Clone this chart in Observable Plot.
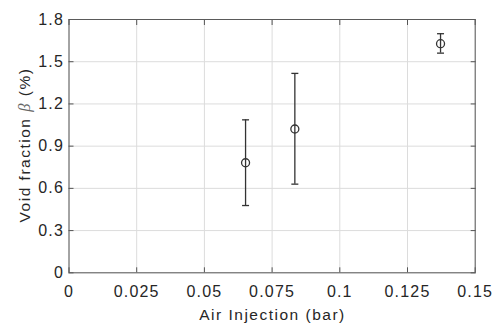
<!DOCTYPE html>
<html><head><meta charset="utf-8">
<script src="https://cdn.jsdelivr.net/npm/d3@7"></script>
<script src="https://cdn.jsdelivr.net/npm/@observablehq/plot@0.6"></script>
<style>
html,body{margin:0;padding:0;background:#fff;}
#chart svg{display:block;}
</style>
</head><body><div id="chart"></div>
<script>
const airInjection = [0.0652, 0.0834, 0.1372];
const voidFraction = [0.782, 1.022, 1.628];
const errLow = [0.478, 0.630, 1.561];
const errHigh = [1.087, 1.417, 1.699];
const xTicks = [0, 0.025, 0.05, 0.075, 0.1, 0.125, 0.15];
const xTickLabels = ["0", "0.025", "0.05", "0.075", "0.1", "0.125", "0.15"];
const yTicks = [0, 0.3, 0.6, 0.9, 1.2, 1.5, 1.8];
const yTickLabels = ["0", "0.3", "0.6", "0.9", "1.2", "1.5", "1.8"];

const data = airInjection.map((x, i) => ({x, y: voidFraction[i], lo: errLow[i], hi: errHigh[i]}));
const capSymbol = {draw(ctx, size) { const w = Math.sqrt(size / Math.PI); ctx.moveTo(-w, 0); ctx.lineTo(w, 0); }};
const ink = "#262626";
const font = "'Liberation Sans', Arial, sans-serif";

const chart = Plot.plot({
  width: 493, height: 325,
  marginLeft: 68.5, marginRight: 18.3, marginTop: 19, marginBottom: 52.7,
  style: {fontFamily: font, fontSize: "16px", color: ink, background: "#fff", letterSpacing: "1.2px"},
  x: {domain: [0, 0.15], ticks: xTicks},
  y: {domain: [0, 1.8], ticks: yTicks},
  marks: [
    Plot.gridX(xTicks, {stroke: "#dcdcdc", strokeOpacity: 1}),
    Plot.gridY(yTicks, {stroke: "#dcdcdc", strokeOpacity: 1}),
    Plot.axisX(xTicks, {anchor: "bottom", tickSize: 0, tickPadding: 13.3, fontSize: 16, fill: ink,
      tickFormat: d => xTickLabels[xTicks.indexOf(d)], label: null}),
    Plot.axisY(yTicks, {anchor: "left", tickSize: 0, tickPadding: 5, fontSize: 16, fill: ink,
      tickFormat: d => yTickLabels[yTicks.indexOf(d)], label: null}),
    Plot.axisX(xTicks, {anchor: "bottom", tickSize: 5, dy: -5, tickFormat: () => "", label: null, stroke: "#555"}),
    Plot.axisX(xTicks, {anchor: "top", tickSize: 5, dy: 5, tickFormat: () => "", label: null, stroke: "#555"}),
    Plot.axisY(yTicks, {anchor: "left", tickSize: 5, dx: 5, tickFormat: () => "", label: null, stroke: "#555"}),
    Plot.axisY(yTicks, {anchor: "right", tickSize: 5, dx: -5, tickFormat: () => "", label: null, stroke: "#555"}),
    Plot.frame({stroke: "#5a5a5a", strokeWidth: 1}),
    Plot.ruleX(data, {x: "x", y1: "lo", y2: "hi", stroke: "#333", strokeWidth: 1.3}),
    Plot.dot(data, {x: "x", y: "lo", symbol: capSymbol, r: 3.5, stroke: "#333", strokeWidth: 1.3}),
    Plot.dot(data, {x: "x", y: "hi", symbol: capSymbol, r: 3.5, stroke: "#333", strokeWidth: 1.3}),
    Plot.dot(data, {x: "x", y: "y", r: 4, stroke: "#333", strokeWidth: 1.3, fill: "none"})
  ]
});

const svg = d3.select(chart);
svg.append("text")
  .attr("x", 272.5).attr("y", 319.5)
  .attr("text-anchor", "middle")
  .attr("font-family", font).attr("font-size", 15.5).attr("fill", ink)
  .style("letter-spacing", "1.5px")
  .text("Air Injection (bar)");
const yl = svg.append("text")
  .attr("transform", "translate(30,145) rotate(-90)")
  .attr("text-anchor", "middle")
  .attr("font-family", font).attr("font-size", 15.5).attr("fill", ink)
  .style("letter-spacing", "1.5px");
yl.append("tspan").text("Void fraction ");
yl.append("tspan").attr("font-family", "'Liberation Serif', 'DejaVu Serif', serif").attr("font-style", "italic").attr("font-size", 16.5).attr("fill", "#666").text("β");
yl.append("tspan").text(" (%)");

document.getElementById("chart").append(chart);
</script>
</body></html>
